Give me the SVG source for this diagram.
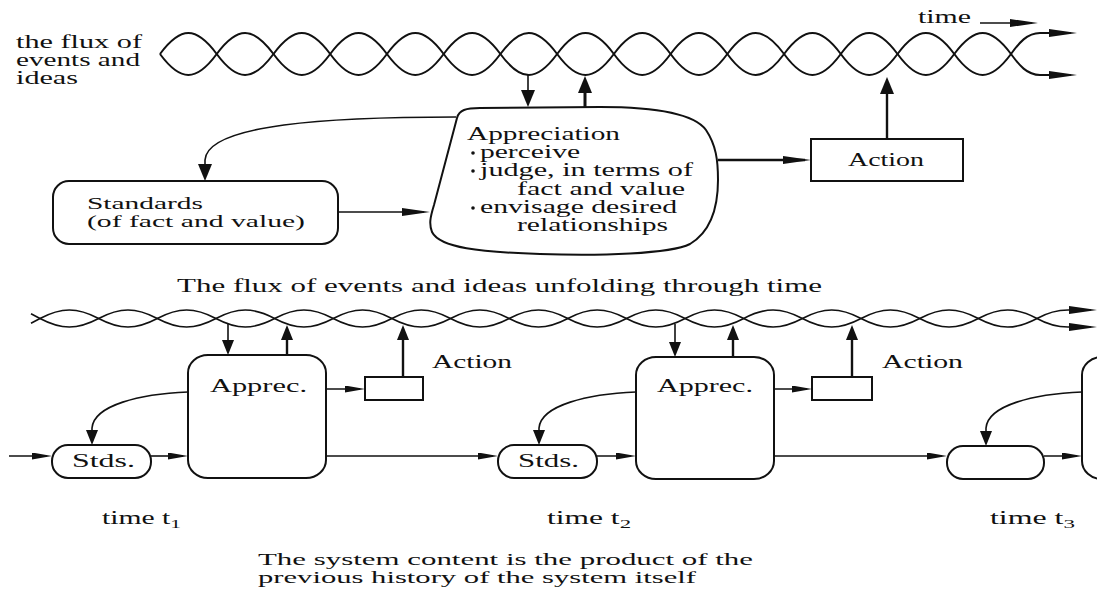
<svg xmlns="http://www.w3.org/2000/svg" width="1097" height="589" viewBox="0 0 1097 589">
  <defs>
    <style>
      .t { font-family: "Liberation Serif", "Times New Roman", serif; font-size: 18px; fill: #111; }
      .sm { font-size: 17px; }
      .box { fill: #fff; stroke: #111; stroke-width: 2; }
      .strand { fill: none; stroke: #111; stroke-width: 2; }
      .strand-s { fill: none; stroke: #111; stroke-width: 1.6; }
      .ln { fill: none; stroke: #111; stroke-width: 1.6; }
      .thin { fill: none; stroke: #111; stroke-width: 1.3; }
      .thick { fill: none; stroke: #111; stroke-width: 3; }
      .mid { fill: none; stroke: #111; stroke-width: 2.4; }
    </style>
    <marker id="vt" markerUnits="userSpaceOnUse" orient="auto" markerWidth="17" markerHeight="14" refX="11" refY="7" viewBox="0 0 17 14">
      <path d="M0,0 L17,7 L0,14 Z" fill="#111"/>
    </marker>
    <marker id="vb" markerUnits="userSpaceOnUse" orient="auto" markerWidth="15" markerHeight="12" refX="10" refY="6" viewBox="0 0 15 12">
      <path d="M0,0 L15,6 L0,12 Z" fill="#111"/>
    </marker>
    <marker id="hl" markerUnits="userSpaceOnUse" orient="auto" markerWidth="28" markerHeight="8" refX="22" refY="4" viewBox="0 0 28 8">
      <path d="M0,0 L28,4 L0,8 Z" fill="#111"/>
    </marker>
    <marker id="hs" markerUnits="userSpaceOnUse" orient="auto" markerWidth="20" markerHeight="7" refX="15" refY="3.5" viewBox="0 0 20 7">
      <path d="M0,0 L20,3.5 L0,7 Z" fill="#111"/>
    </marker>
  </defs>

  <rect width="1097" height="589" fill="#fff"/>

  <!-- upper flux: two intertwined strands -->
  <g id="flux-top">
    <path class="strand" marker-end="url(#hl)" d="M160,54 C180.66,26 196.07,26 216.73,54 S252.81,82 273.47,54 S309.54,26 330.2,54 S366.27,82 386.93,54 S423.01,26 443.67,54 S479.74,82 500.4,54 S536.47,26 557.13,54 S593.21,82 613.87,54 S649.94,26 670.6,54 S706.67,82 727.33,54 S763.41,26 784.07,54 S820.14,82 840.8,54 S876.87,26 897.53,54 S933.61,82 954.27,54 S990.34,26 1011,54 C1019,65 1027,75 1040,75 L1071,75"/>
    <path class="strand" marker-end="url(#hl)" d="M160,54 C180.66,82 196.07,82 216.73,54 S252.81,26 273.47,54 S309.54,82 330.2,54 S366.27,26 386.93,54 S423.01,82 443.67,54 S479.74,26 500.4,54 S536.47,82 557.13,54 S593.21,26 613.87,54 S649.94,82 670.6,54 S706.67,26 727.33,54 S763.41,82 784.07,54 S820.14,26 840.8,54 S876.87,82 897.53,54 S933.61,26 954.27,54 S990.34,82 1011,54 C1019,43 1027,33 1040,33 L1071,33"/>
  </g>

  <g id="label-flux">
    <text class="t" x="16" y="48" textLength="126" lengthAdjust="spacingAndGlyphs">the flux of</text>
    <text class="t" x="16" y="66" textLength="124" lengthAdjust="spacingAndGlyphs">events and</text>
    <text class="t" x="16" y="84" textLength="62" lengthAdjust="spacingAndGlyphs">ideas</text>
  </g>

  <g id="label-time">
    <text class="t" x="918" y="23" textLength="53" lengthAdjust="spacingAndGlyphs">time</text>
    <path class="ln" marker-end="url(#hl)" d="M980,23 L1032,23"/>
  </g>

  <!-- appreciation blob -->
  <g id="appreciation">
    <path class="box" d="M457,118 C459,110 466,108 480,108 L600,107 C650,107 693,112 706,130 C716,145 718,160 718,180 C718,210 710,232 690,244 C670,254 600,256 540,254 C480,252 440,248 432,232 C429,224 430,218 434,205 L457,118 Z"/>
    <text class="t" x="467" y="140" textLength="153" lengthAdjust="spacingAndGlyphs">Appreciation</text>
    <circle cx="473" cy="153" r="1.8" fill="#111"/>
    <text class="t" x="480" y="158" textLength="100" lengthAdjust="spacingAndGlyphs">perceive</text>
    <circle cx="473" cy="171" r="1.8" fill="#111"/>
    <text class="t" x="480" y="176" textLength="213" lengthAdjust="spacingAndGlyphs">judge, in terms of</text>
    <text class="t" x="517" y="195" textLength="168" lengthAdjust="spacingAndGlyphs">fact and value</text>
    <circle cx="473" cy="208" r="1.8" fill="#111"/>
    <text class="t" x="480" y="213" textLength="197" lengthAdjust="spacingAndGlyphs">envisage desired</text>
    <text class="t" x="517" y="231" textLength="151" lengthAdjust="spacingAndGlyphs">relationships</text>
  </g>

  <g id="action">
    <rect class="box" x="811" y="139" width="152" height="42"/>
    <text class="t" x="848" y="166" textLength="76" lengthAdjust="spacingAndGlyphs">Action</text>
  </g>

  <g id="standards">
    <rect class="box" x="53" y="181" width="285" height="63" rx="16" ry="16"/>
    <text class="t sm" x="87" y="209" textLength="116" lengthAdjust="spacingAndGlyphs">Standards</text>
    <text class="t sm" x="87" y="227" textLength="218" lengthAdjust="spacingAndGlyphs">(of fact and value)</text>
  </g>

  <g id="caption-top">
    <text class="t" x="177" y="292" textLength="645" lengthAdjust="spacingAndGlyphs">The flux of events and ideas unfolding through time</text>
  </g>

  <!-- lower flux -->
  <g id="flux-bottom">
    <path class="strand-s" marker-end="url(#hl)" d="M31,313.7 L40,318.5 C61.36,329.83 77.29,329.83 98.65,318.5 S135.93,307.17 157.29,318.5 S194.58,329.83 215.94,318.5 S253.23,307.17 274.59,318.5 S311.88,329.83 333.24,318.5 S370.52,307.17 391.88,318.5 S429.17,329.83 450.53,318.5 S487.82,307.17 509.18,318.5 S546.46,329.83 567.82,318.5 S605.11,307.17 626.47,318.5 S663.76,329.83 685.12,318.5 S722.4,307.17 743.76,318.5 S781.05,329.83 802.41,318.5 S839.7,307.17 861.06,318.5 S898.35,329.83 919.71,318.5 S956.99,307.17 978.35,318.5 S1015.64,329.83 1037,318.5 C1046,313.5 1055,310 1068,310 L1091,310"/>
    <path class="strand-s" marker-end="url(#hl)" d="M31,323.3 L40,318.5 C61.36,307.17 77.29,307.17 98.65,318.5 S135.93,329.83 157.29,318.5 S194.58,307.17 215.94,318.5 S253.23,329.83 274.59,318.5 S311.88,307.17 333.24,318.5 S370.52,329.83 391.88,318.5 S429.17,307.17 450.53,318.5 S487.82,329.83 509.18,318.5 S546.46,307.17 567.82,318.5 S605.11,329.83 626.47,318.5 S663.76,307.17 685.12,318.5 S722.4,329.83 743.76,318.5 S781.05,307.17 802.41,318.5 S839.7,329.83 861.06,318.5 S898.35,307.17 919.71,318.5 S956.99,329.83 978.35,318.5 S1015.64,307.17 1037,318.5 C1046,323.5 1055,327 1068,327 L1091,327"/>
  </g>

  <g id="apprec-1">
    <rect class="box" x="188" y="355" width="138" height="123" rx="20" ry="18"/>
    <text class="t" x="210" y="392" textLength="97" lengthAdjust="spacingAndGlyphs">Apprec.</text>
  </g>
  <g id="action-1">
    <rect class="box" x="365" y="377" width="58" height="23"/>
    <text class="t" x="432" y="368" textLength="80" lengthAdjust="spacingAndGlyphs">Action</text>
  </g>
  <g id="stds-1">
    <rect class="box" x="52" y="445" width="99" height="33" rx="16" ry="16"/>
    <text class="t" x="72" y="467" textLength="63" lengthAdjust="spacingAndGlyphs">Stds.</text>
  </g>

  <g id="apprec-2">
    <rect class="box" x="636" y="357" width="138" height="122" rx="20" ry="18"/>
    <text class="t" x="657" y="392" textLength="96" lengthAdjust="spacingAndGlyphs">Apprec.</text>
  </g>
  <g id="action-2">
    <rect class="box" x="812" y="377" width="60" height="23"/>
    <text class="t" x="882" y="368" textLength="81" lengthAdjust="spacingAndGlyphs">Action</text>
  </g>
  <g id="stds-2">
    <rect class="box" x="498" y="445" width="99" height="33" rx="16" ry="16"/>
    <text class="t" x="518" y="467" textLength="61" lengthAdjust="spacingAndGlyphs">Stds.</text>
  </g>

  <g id="apprec-3">
    <rect class="box" x="1082" y="357" width="60" height="122" rx="20" ry="18"/>
  </g>
  <g id="stds-3">
    <rect class="box" x="947" y="446" width="97" height="33" rx="16" ry="16"/>
  </g>

  <g id="time-labels">
    <text class="t" x="102" y="524" textLength="79" lengthAdjust="spacingAndGlyphs">time t<tspan dy="4" font-size="13">1</tspan></text>
    <text class="t" x="547" y="524" textLength="84" lengthAdjust="spacingAndGlyphs">time t<tspan dy="4" font-size="13">2</tspan></text>
    <text class="t" x="990" y="524" textLength="85" lengthAdjust="spacingAndGlyphs">time t<tspan dy="4" font-size="13">3</tspan></text>
  </g>

  <g id="caption-bottom">
    <text class="t sm" x="258" y="565" textLength="495" lengthAdjust="spacingAndGlyphs">The system content is the product of the</text>
    <text class="t sm" x="258" y="583" textLength="438" lengthAdjust="spacingAndGlyphs">previous history of the system itself</text>
  </g>

  <g id="connectors">
    <!-- upper diagram -->
    <path class="ln" marker-end="url(#vt)" d="M528,75 L528,101"/>
    <path class="thick" marker-end="url(#vt)" d="M585,107 L585,82"/>
    <path class="mid" marker-end="url(#vt)" d="M887,139 L887,83"/>
    <path class="mid" marker-end="url(#hl)" d="M718,160 L805,160"/>
    <path class="thin" marker-end="url(#hl)" d="M338,212 L424,212"/>
    <path class="ln" marker-end="url(#vt)" d="M456,117 C330,117 207,124 205,160 L205,175"/>
    <!-- lower diagram: flux exchanges -->
    <path class="ln" marker-end="url(#vb)" d="M228,324 L228,350"/>
    <path class="mid" marker-end="url(#vb)" d="M287,355 L287,330"/>
    <path class="mid" marker-end="url(#vb)" d="M403,377 L403,330"/>
    <path class="ln" marker-end="url(#vb)" d="M675,324 L675,352"/>
    <path class="mid" marker-end="url(#vb)" d="M733,357 L733,330"/>
    <path class="mid" marker-end="url(#vb)" d="M852,377 L852,330"/>
    <!-- lower diagram: appreciation to action -->
    <path class="ln" marker-end="url(#hs)" d="M326,389 L360,389"/>
    <path class="ln" marker-end="url(#hs)" d="M774,389 L807,389"/>
    <!-- lower diagram: feedback to standards -->
    <path class="ln" marker-end="url(#vb)" d="M188,392 C140,394 94,405 92,428 L92,440"/>
    <path class="ln" marker-end="url(#vb)" d="M636,392 C588,394 541,405 539,428 L539,440"/>
    <path class="ln" marker-end="url(#vb)" d="M1082,392 C1034,394 988,405 986,428 L986,441"/>
    <!-- lower diagram: history line -->
    <path class="ln" marker-end="url(#hs)" d="M9,456 L47,456"/>
    <path class="ln" marker-end="url(#hs)" d="M151,456 L183,456"/>
    <path class="thin" marker-end="url(#hs)" d="M326,456 L493,456"/>
    <path class="ln" marker-end="url(#hs)" d="M597,456 L631,456"/>
    <path class="thin" marker-end="url(#hs)" d="M774,456 L942,456"/>
    <path class="ln" marker-end="url(#hs)" d="M1044,456 L1077,456"/>
  </g>
</svg>
